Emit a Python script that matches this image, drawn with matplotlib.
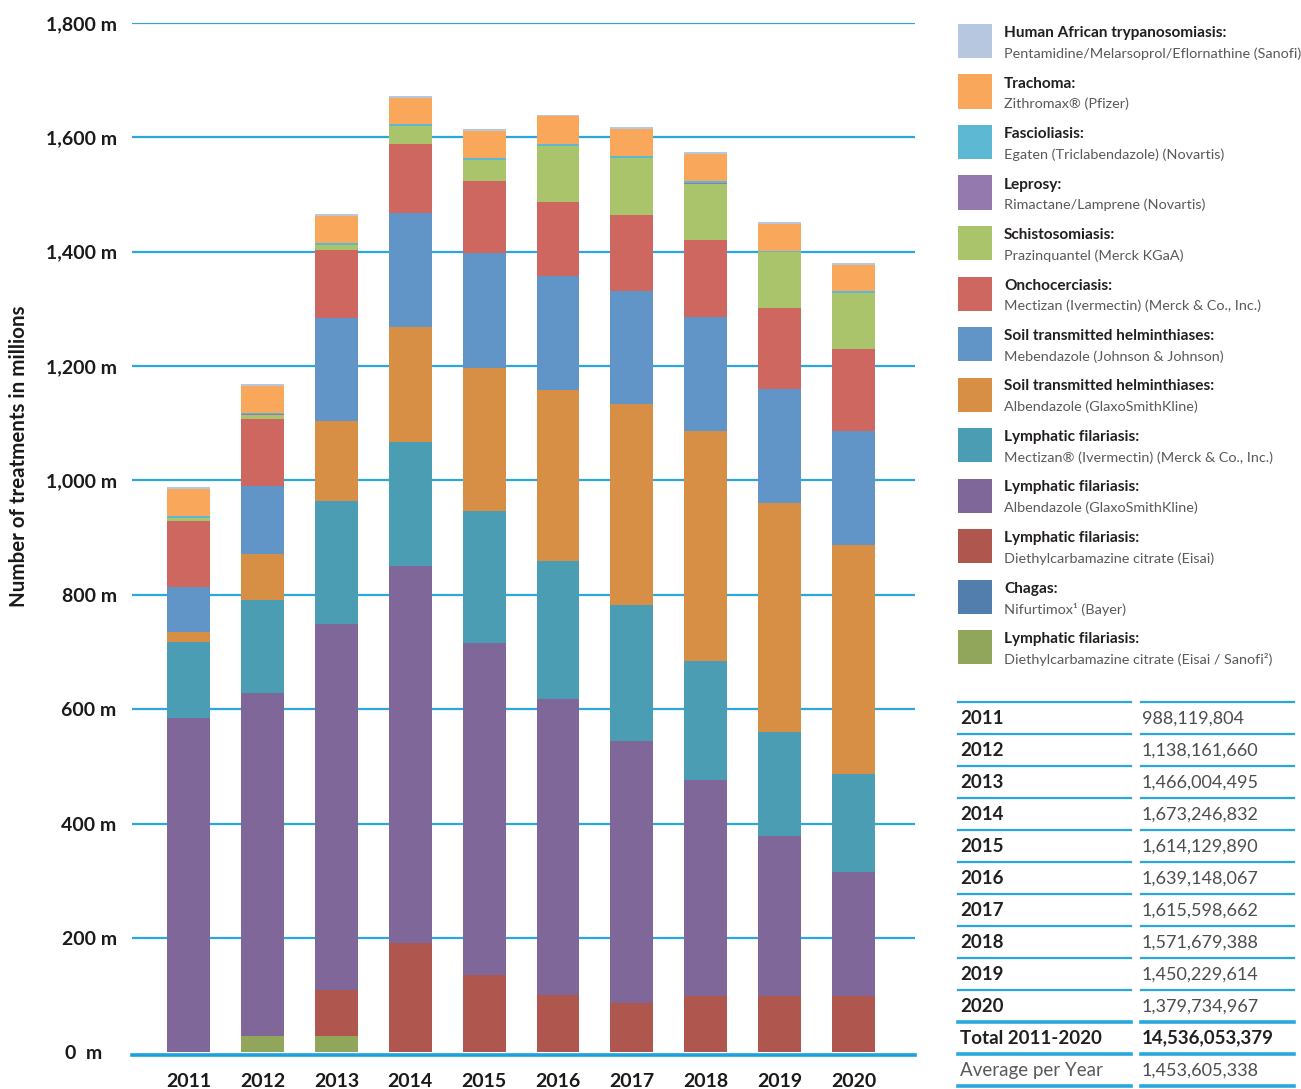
import matplotlib
matplotlib.use("Agg")
import matplotlib.pyplot as plt
from matplotlib.patches import Rectangle
import numpy as np

plt.rcParams['font.family'] = ['Lato', 'DejaVu Sans']

years = ["2011", "2012", "2013", "2014", "2015", "2016", "2017", "2018", "2019", "2020"]

# series, bottom to top (millions of treatments)
lf_dec_eisai_sanofi = [0, 28, 28, 0, 0, 0, 0, 0, 0, 0]
chagas = [0.5, 1, 1, 1, 1, 1, 1, 0, 0, 0]
lf_dec_eisai = [0, 0, 81, 190, 134, 99, 85, 98, 98, 98]
lf_albendazole = [584, 600, 639, 660, 580, 518, 459, 379, 280, 218]
lf_mectizan = [133, 162, 215, 217, 232, 241, 238, 208, 182, 170]
sth_albendazole = [17, 81, 140, 200, 250, 299, 350, 401, 401, 401]
sth_mebendazole = [80, 119, 180, 199, 200, 200, 199, 199, 199, 199]
onchocerciasis = [114, 117, 119, 122, 126, 129, 133, 136, 141, 143]
schistosomiasis = [6, 7, 9, 30, 37, 98, 98, 98, 98, 98]
leprosy = [0.5, 0.5, 0.5, 0.5, 1, 0.5, 0.5, 0.5, 0.5, 1]
fascioliasis = [3, 3, 2, 3, 2.5, 2, 3, 3.5, 2, 2.5]
trachoma = [47, 47, 48, 47, 47, 49, 48, 47, 47, 47]
hat = [3.5, 3.5, 3, 3.5, 3.5, 3, 3.5, 3.5, 3.5, 3.5]

stack = [lf_dec_eisai_sanofi, chagas, lf_dec_eisai, lf_albendazole, lf_mectizan,
         sth_albendazole, sth_mebendazole, onchocerciasis, schistosomiasis,
         leprosy, fascioliasis, trachoma, hat]
colors = ["#91A65A", "#517EAD", "#AF574F", "#7F6799", "#4A9DB2",
          "#D78F46", "#6195C8", "#CD675F", "#A9C46B",
          "#9479AF", "#5DB8D3", "#F9A85B", "#B8C7E0"]

legend_titles = ["Lymphatic filariasis:", "Chagas:", "Lymphatic filariasis:",
                 "Lymphatic filariasis:", "Lymphatic filariasis:",
                 "Soil transmitted helminthiases:", "Soil transmitted helminthiases:",
                 "Onchocerciasis:", "Schistosomiasis:", "Leprosy:", "Fascioliasis:",
                 "Trachoma:", "Human African trypanosomiasis:"]
legend_subs = ["Diethylcarbamazine citrate (Eisai / Sanofi²)", "Nifurtimox¹ (Bayer)",
               "Diethylcarbamazine citrate (Eisai)", "Albendazole (GlaxoSmithKline)",
               "Mectizan® (Ivermectin) (Merck & Co., Inc.)",
               "Albendazole (GlaxoSmithKline)", "Mebendazole (Johnson & Johnson)",
               "Mectizan (Ivermectin) (Merck & Co., Inc.)", "Prazinquantel (Merck KGaA)",
               "Rimactane/Lamprene (Novartis)", "Egaten (Triclabendazole) (Novartis)",
               "Zithromax® (Pfizer)",
               "Pentamidine/Melarsoprol/Eflornathine (Sanofi)"]

y_ticks = [0, 200, 400, 600, 800, 1000, 1200, 1400, 1600, 1800]
y_ticklabels = ["0  m   ", "200 m", "400 m", "600 m", "800 m", "1,000 m", "1,200 m",
                "1,400 m", "1,600 m", "1,800 m"]

table_years = years + ["Total 2011-2020", "Average per Year"]
table_values = ["988,119,804", "1,138,161,660", "1,466,004,495", "1,673,246,832",
                "1,614,129,890", "1,639,148,067", "1,615,598,662", "1,571,679,388",
                "1,450,229,614", "1,379,734,967", "14,536,053,379", "1,453,605,338"]

W, H = 1301, 1089
fig = plt.figure(figsize=(W / 100, H / 100), dpi=100)

def fx(x):
    return x / W

def fy(y):
    return 1 - y / H

ax_left, ax_right, ax_top, ax_bot = 132, 915, 22.9, 1055
ax = fig.add_axes([fx(ax_left), fy(ax_bot), fx(ax_right - ax_left), (ax_bot - ax_top) / H])

x = np.arange(len(years))
bottom = np.zeros(len(years))
for vals, c in zip(stack, colors):
    ax.bar(x, vals, bottom=bottom, width=0.58, color=c, linewidth=0, zorder=3)
    bottom += np.array(vals, dtype=float)

ax.set_xlim(-0.766, 9.832)
ax.set_ylim(-4.5, 1800)
ax.set_yticks(y_ticks)
ax.set_yticklabels(y_ticklabels, fontsize=14, fontweight='bold', color='#1a1a1a')
ax.set_xticks(x)
ax.set_xticklabels(years, fontsize=14, fontweight='bold', color='#1a1a1a')
ax.tick_params(axis='both', length=0)
ax.tick_params(axis='y', pad=11)
ax.tick_params(axis='x', pad=13)
for t in y_ticks[1:]:
    ax.axhline(t, color='#2AA7DF', lw=1.6, zorder=1)
for s in ['top', 'right', 'left']:
    ax.spines[s].set_visible(False)
ax.spines['bottom'].set_color('#1BA1DB')
ax.spines['bottom'].set_linewidth(2.6)
ax.set_ylabel("Number of treatments in millions", fontsize=14.8, fontweight='bold',
              color='#1a1a1a')
ax.yaxis.set_label_coords(-0.131, 0.58)

# legend (top entry first)
lx, ly0, step = 958, 24, 50.5
order = list(range(len(stack)))[::-1]
for i, k in enumerate(order):
    top = ly0 + i * step
    fig.add_artist(Rectangle((fx(lx), fy(top + 34)), 34 / W, 34 / H,
                             transform=fig.transFigure, color=colors[k], lw=0))
    fig.text(fx(1004), fy(top + 9), legend_titles[k], fontsize=11.1, fontweight='bold',
             color='#231F20', va='center', ha='left')
    fig.text(fx(1004), fy(top + 29.5), legend_subs[k], fontsize=10.4,
             color='#58595B', va='center', ha='left')

# table
row_h = 32
first = 701.7
for i in range(len(table_years) + 1):
    yline = first + i * row_h
    lw = 2.6 if i >= 10 else 1.6
    fig.add_artist(plt.Line2D([fx(958), fx(1131)], [fy(yline), fy(yline)],
                              transform=fig.transFigure, color='#2AA7DF', lw=lw))
    fig.add_artist(plt.Line2D([fx(1141), fx(1294)], [fy(yline), fy(yline)],
                              transform=fig.transFigure, color='#2AA7DF', lw=lw))
for i, (lab, val) in enumerate(zip(table_years, table_values)):
    yc = first + i * row_h + row_h / 2 + 0.5
    if i < 10:
        fig.text(fx(960), fy(yc), lab, fontsize=13.5, fontweight='bold', color='#231F20', va='center')
        fig.text(fx(1142), fy(yc), val, fontsize=13, color='#4D4D4F', va='center')
    elif i == 10:
        fig.text(fx(960), fy(yc), lab, fontsize=13.5, fontweight='bold', color='#231F20', va='center')
        fig.text(fx(1142), fy(yc), val, fontsize=13.5, fontweight='bold', color='#231F20', va='center')
    else:
        fig.text(fx(960), fy(yc), lab, fontsize=13.5, color='#58595B', va='center')
        fig.text(fx(1142), fy(yc), val, fontsize=13, color='#4D4D4F', va='center')

fig.savefig("out.png", dpi=100)
